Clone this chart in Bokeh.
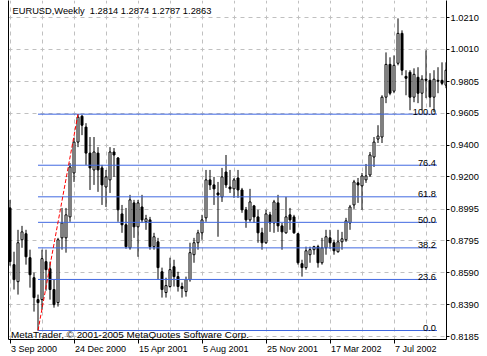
import numpy as np
from bokeh.plotting import figure
from bokeh.models import (ColumnDataSource, FixedTicker, LinearAxis, Label,
                          PrintfTickFormatter, Range1d)
from bokeh.core.properties import value
from bokeh.embed import file_html
from bokeh.resources import INLINE

title_text = "EURUSD,Weekly\u00a0 1.2814 1.2874 1.2787 1.2863"
copyright_text = "MetaTrader, \u00a9 2001-2005 MetaQuotes Software Corp."

# weekly candles, bar 0 = week of 3 Sep 2000
opens = [0.9003, 0.8643, 0.8535, 0.8801, 0.8839, 0.8687, 0.8560, 0.8421, 0.8421, 0.8662,
         0.8617, 0.8485, 0.8402, 0.8813, 0.8813, 0.8946, 0.9225, 0.9421, 0.9585, 0.9516,
         0.9351, 0.9244, 0.9351, 0.9257, 0.9136, 0.9181, 0.9358, 0.9320, 0.8965, 0.8896,
         0.8750, 0.9035, 0.8883, 0.9009, 0.8915, 0.8927, 0.8757, 0.8788, 0.8598, 0.8466,
         0.8504, 0.8630, 0.8567, 0.8504, 0.8472, 0.8548, 0.8706, 0.8782, 0.8845, 0.8940,
         0.9181, 0.9149, 0.9098, 0.9073, 0.9231, 0.9136, 0.9124, 0.9193, 0.9117, 0.8991,
         0.8927, 0.9016, 0.8946, 0.8845, 0.8782, 0.8959, 0.8908, 0.9035, 0.8889, 0.8845,
         0.8959, 0.8946, 0.8839, 0.8649, 0.8624, 0.8706, 0.8738, 0.8757, 0.8655, 0.8750,
         0.8813, 0.8782, 0.8725, 0.8788, 0.8801, 0.8908, 0.9022, 0.9162, 0.9143, 0.9181,
         0.9212, 0.9326, 0.9440, 0.9453, 0.9706, 0.9914, 0.9744, 0.9921, 1.0111, 0.9838,
         0.9864, 0.9706, 0.9832, 0.9731, 0.9820, 0.9813, 0.9706, 0.9813, 0.9813, 0.9782]
highs = [0.9054, 0.8725, 0.8864, 0.8889, 0.8864, 0.8738, 0.8592, 0.8453, 0.8738, 0.8738,
         0.8662, 0.8548, 0.8813, 0.9003, 0.9003, 0.9288, 0.9446, 0.9598, 0.9594, 0.9541,
         0.9453, 0.9453, 0.9389, 0.9276, 0.9244, 0.9389, 0.9383, 0.9326, 0.9022, 0.9003,
         0.9086, 0.9054, 0.9054, 0.9086, 0.8959, 0.8946, 0.8845, 0.8813, 0.8624, 0.8560,
         0.8687, 0.8674, 0.8598, 0.8529, 0.8567, 0.8782, 0.8813, 0.8864, 0.8959, 0.9244,
         0.9244, 0.9200, 0.9168, 0.9257, 0.9339, 0.9244, 0.9193, 0.9244, 0.9130, 0.9009,
         0.9124, 0.9022, 0.8991, 0.8877, 0.8991, 0.8978, 0.9054, 0.9086, 0.8908, 0.9073,
         0.9003, 0.8959, 0.8845, 0.8674, 0.8757, 0.8757, 0.8763, 0.8769, 0.8813, 0.8864,
         0.8864, 0.8801, 0.8864, 0.8851, 0.8940, 0.9022, 0.9181, 0.9193, 0.9225, 0.9282,
         0.9358, 0.9453, 0.9528, 0.9718, 0.9990, 0.9959, 0.9971, 1.0206, 1.0130, 0.9877,
         0.9877, 0.9889, 0.9896, 0.9845, 1.0003, 0.9858, 0.9877, 0.9896, 0.9927, 0.9927]
lows = [0.8636, 0.8485, 0.8453, 0.8750, 0.8643, 0.8497, 0.8345, 0.8225, 0.8358, 0.8478,
        0.8421, 0.8370, 0.8377, 0.8738, 0.8719, 0.8915, 0.9168, 0.9389, 0.9465, 0.9276,
        0.9117, 0.9149, 0.9105, 0.9022, 0.9009, 0.9098, 0.9200, 0.8915, 0.8845, 0.8744,
        0.8738, 0.8813, 0.8693, 0.8908, 0.8864, 0.8738, 0.8738, 0.8548, 0.8434, 0.8434,
        0.8497, 0.8504, 0.8472, 0.8434, 0.8440, 0.8535, 0.8655, 0.8738, 0.8801, 0.8915,
        0.9117, 0.9022, 0.8820, 0.9041, 0.9130, 0.9098, 0.9067, 0.9067, 0.8972, 0.8877,
        0.8915, 0.8908, 0.8782, 0.8738, 0.8775, 0.8851, 0.8845, 0.8851, 0.8738, 0.8839,
        0.8864, 0.8839, 0.8643, 0.8567, 0.8611, 0.8655, 0.8706, 0.8624, 0.8643, 0.8706,
        0.8744, 0.8706, 0.8719, 0.8738, 0.8788, 0.8864, 0.8997, 0.9035, 0.8991, 0.9162,
        0.9200, 0.9263, 0.9415, 0.9415, 0.9668, 0.9718, 0.9731, 0.9908, 0.9845, 0.9718,
        0.9623, 0.9674, 0.9668, 0.9623, 0.9700, 0.9642, 0.9611, 0.9731, 0.9782, 0.9763]
closes = [0.8662, 0.8548, 0.8782, 0.8851, 0.8693, 0.8579, 0.8434, 0.8402, 0.8681, 0.8611,
          0.8485, 0.8389, 0.8801, 0.8908, 0.8959, 0.9263, 0.9421, 0.9579, 0.9528, 0.9351,
          0.9257, 0.9358, 0.9244, 0.9149, 0.9200, 0.9358, 0.9339, 0.8991, 0.8896, 0.8757,
          0.9054, 0.8883, 0.9035, 0.8927, 0.8934, 0.8757, 0.8820, 0.8624, 0.8485, 0.8510,
          0.8611, 0.8567, 0.8504, 0.8491, 0.8548, 0.8719, 0.8782, 0.8845, 0.8927, 0.9181,
          0.9149, 0.9124, 0.9086, 0.9200, 0.9149, 0.9124, 0.9181, 0.9117, 0.8991, 0.8927,
          0.9041, 0.8946, 0.8845, 0.8782, 0.8965, 0.8908, 0.9041, 0.8889, 0.8851, 0.8946,
          0.8927, 0.8845, 0.8655, 0.8624, 0.8731, 0.8738, 0.8757, 0.8655, 0.8750, 0.8820,
          0.8782, 0.8731, 0.8788, 0.8807, 0.8921, 0.9009, 0.9168, 0.9149, 0.9206, 0.9206,
          0.9339, 0.9421, 0.9459, 0.9706, 0.9914, 0.9731, 0.9908, 1.0111, 0.9877, 0.9826,
          0.9706, 0.9851, 0.9731, 0.9820, 0.9813, 0.9706, 0.9820, 0.9807, 0.9794, 0.9877]

price_ticks = [1.0210, 1.0010, 0.9805, 0.9605, 0.9400, 0.9200, 0.8995, 0.8795,
               0.8590, 0.8390, 0.8185]
date_labels = ["3 Sep 2000", "24 Dec 2000", "15 Apr 2001", "5 Aug 2001",
               "25 Nov 2001", "17 Mar 2002", "7 Jul 2002"]
date_label_bars = [0, 16, 32, 48, 64, 80, 96]
grid_bars = list(range(0, 112, 8))
fib_ratios = [0.0, 23.6, 38.2, 50.0, 61.8, 76.4, 100.0]

FONT = "Liberation Sans"
FS = "9.3px"
DATE_FS = 9.0
PX_PER_BAR = 4.0

# approximate advance widths (em) of Liberation Sans, used to left-align
# date labels just right of their tick (Bokeh centres axis labels)
_W = {" ": .278, "S": .667, "D": .722, "A": .667, "N": .722, "M": .833, "J": .5,
      "e": .556, "p": .556, "c": .5, "r": .333, "u": .556, "g": .556, "o": .556,
      "v": .5, "a": .556, "l": .222}


def text_width_px(s, size):
    return sum(_W.get(ch, .556) for ch in s) * size


label_pos = [round(b + (1.0 + text_width_px(t, DATE_FS) / 2.0) / PX_PER_BAR, 4)
             for b, t in zip(date_label_bars, date_labels)]

idx = np.arange(len(opens))
o = np.array(opens); h = np.array(highs); l = np.array(lows); c = np.array(closes)
src = ColumnDataSource(dict(
    x=idx, high=h, low=l, top=np.maximum(o, c), bottom=np.minimum(o, c),
    fill=["white" if cc >= oo else "black" for oo, cc in zip(o, c)],
))

p = figure(width=487, height=356, output_backend="svg", toolbar_location=None,
           x_range=Range1d(-0.375, 109.125), y_range=Range1d(0.81679, 1.03195),
           x_axis_location=None, y_axis_location=None,
           min_border_left=8, min_border_right=41, min_border_top=0, min_border_bottom=16)
p.outline_line_color = None
p.background_fill_color = "white"
p.border_fill_color = "white"

p.xgrid.ticker = FixedTicker(ticks=grid_bars)
p.ygrid.ticker = FixedTicker(ticks=price_ticks)
for g in (p.xgrid, p.ygrid):
    g.grid_line_color = "#c0c0c0"
    g.grid_line_dash = "4 4"
    g.grid_line_width = 1

right_axis = LinearAxis(ticker=FixedTicker(ticks=price_ticks, minor_ticks=[]),
                        formatter=PrintfTickFormatter(format="%.4f"),
                        major_tick_out=3, major_tick_in=0, major_label_standoff=1,
                        axis_line_color="black", major_tick_line_color="black",
                        major_label_text_font=FONT, major_label_text_font_size=FS,
                        major_label_text_color="black")
p.add_layout(right_axis, "right")

# major ticks (invisible) carry the labels, minor ticks mark the bars
bottom_axis = LinearAxis(ticker=FixedTicker(ticks=label_pos, minor_ticks=date_label_bars),
                         major_tick_out=4, major_tick_in=0, major_tick_line_color=None,
                         minor_tick_out=4, minor_tick_in=0, minor_tick_line_color="black",
                         major_label_standoff=0,
                         axis_line_color="black",
                         major_label_text_font=FONT,
                         major_label_text_font_size="%gpx" % DATE_FS,
                         major_label_text_color="black",
                         major_label_overrides={lp: t for lp, t in zip(label_pos, date_labels)})
p.add_layout(bottom_axis, "below")

left_axis = LinearAxis(ticker=FixedTicker(ticks=[], minor_ticks=[]),
                       major_tick_out=0, major_tick_in=0, major_label_text_font_size="0px",
                       axis_line_color="black")
p.add_layout(left_axis, "left")

# candles
p.segment(x0="x", y0="high", x1="x", y1="low", source=src, line_color="black", line_width=1)
p.vbar(x="x", top="top", bottom="bottom", width=0.5, source=src,
       fill_color="fill", line_color="black", line_width=1)

# fibonacci retracement
fib_lo = int(np.argmin(l))
fib_hi = int(np.argmax(h[:40]))
lo_p, hi_p = l[fib_lo], h[fib_hi]
levels = [lo_p + r / 100.0 * (hi_p - lo_p) for r in fib_ratios]
fib_end = 106.75
fib_src = ColumnDataSource(dict(x0=[fib_lo] * len(levels), x1=[fib_end] * len(levels),
                                y=levels, txt=["%.1f" % r for r in fib_ratios]))
p.segment(x0="x0", y0="y", x1="x1", y1="y", source=fib_src, line_color="#4169E1", line_width=1)
p.text(x="x1", y="y", text="txt", source=fib_src, text_align="right",
       text_baseline="alphabetic", y_offset=-2.5, x_offset=-1,
       text_font=value(FONT), text_font_size=FS, text_color="black")
p.line(x=[fib_lo, fib_hi], y=[lo_p, hi_p], line_color="red", line_width=1, line_dash="4 2")

# texts inside the chart
p.add_layout(Label(x=4, y=328.3, x_units="screen", y_units="screen", text=title_text,
                   text_font=FONT, text_font_size=FS, text_color="black",
                   text_baseline="alphabetic"))
p.add_layout(Label(x=2.5, y=5, x_units="screen", y_units="screen", text=copyright_text,
                   text_font=FONT, text_font_size="9.9px", text_color="black",
                   text_baseline="alphabetic"))

open("out.html", "w").write(file_html(p, INLINE))
